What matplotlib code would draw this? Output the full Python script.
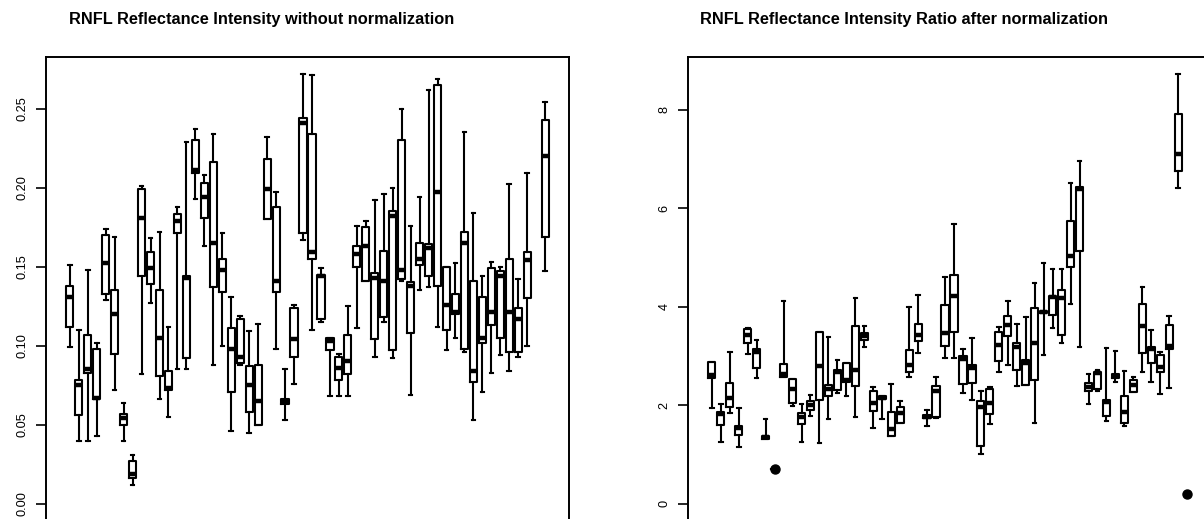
import numpy as np
import matplotlib
matplotlib.use("Agg")
import matplotlib.pyplot as plt

plt.rcParams['font.family'] = ['Liberation Sans', 'DejaVu Sans']

# ---- Left panel: RNFL reflectance intensity (no normalization) ----
left_lo  = [0.099,0.040,0.040,0.043,0.129,0.072,0.040,0.012,0.082,0.127,0.066,0.055,0.085,0.085,0.193,0.163,0.088,0.100,0.046,0.088,0.045,0.050,0.180,0.098,0.053,0.076,
            0.167,0.110,0.115,0.068,0.068,0.068,0.111,0.141,0.093,0.115,0.092,0.141,0.069,0.135,0.137,0.112,0.097,0.105,0.096,0.053,0.071,0.083,0.094,0.084,0.093,0.100,np.nan,0.147]
left_q1  = [0.112,0.056,0.083,0.066,0.133,0.095,0.050,0.016,0.144,0.139,0.081,0.072,0.171,0.092,0.209,0.181,0.137,0.134,0.071,0.089,0.058,0.050,0.180,0.134,0.063,0.093,
            0.1715,0.155,0.117,0.097,0.078,0.082,0.150,0.141,0.104,0.118,0.097,0.142,0.108,0.151,0.144,0.138,0.110,0.120,0.098,0.077,0.102,0.113,0.105,0.096,0.096,0.130,np.nan,0.169]
left_med = [0.131,0.075,0.085,0.067,0.152,0.120,0.054,0.019,0.181,0.149,0.105,0.073,0.179,0.143,0.211,0.194,0.165,0.148,0.098,0.093,0.075,0.065,0.199,0.141,0.065,0.104,
            0.241,0.159,0.144,0.103,0.086,0.090,0.158,0.163,0.143,0.141,0.182,0.148,0.138,0.155,0.162,0.197,0.126,0.121,0.165,0.084,0.105,0.121,0.144,0.121,0.117,0.154,np.nan,0.220]
left_q3  = [0.138,0.078,0.107,0.098,0.170,0.135,0.057,0.027,0.199,0.159,0.135,0.084,0.183,0.144,0.230,0.203,0.216,0.155,0.111,0.117,0.087,0.088,0.218,0.188,0.066,0.124,
            0.244,0.234,0.145,0.105,0.093,0.107,0.163,0.175,0.146,0.160,0.185,0.230,0.140,0.165,0.164,0.265,0.150,0.133,0.172,0.141,0.131,0.149,0.147,0.155,0.124,0.159,np.nan,0.243]
left_hi  = [0.151,0.110,0.148,0.102,0.174,0.169,0.064,0.031,0.201,0.168,0.172,0.112,0.188,0.229,0.237,0.208,0.234,0.171,0.131,0.119,0.109,0.114,0.232,0.197,0.085,0.126,
            0.272,0.271,0.149,0.105,0.095,0.125,0.176,0.179,0.192,0.196,0.200,0.250,0.176,0.194,0.262,0.269,0.150,0.152,0.235,0.184,0.144,0.153,0.150,0.202,0.142,0.209,np.nan,0.254]
left_yticks = [0.00, 0.05, 0.10, 0.15, 0.20, 0.25]
left_ytick_labels = ["0.00", "0.05", "0.10", "0.15", "0.20", "0.25"]

# ---- Right panel: RNFL reflectance intensity ratio (normalized) ----
right_lo  = [1.94,1.26,1.84,1.16,3.04,2.55,1.32,0.70,2.57,1.99,1.26,1.79,1.23,1.72,2.25,2.18,1.77,3.19,1.54,1.72,1.37,1.65,2.57,3.07,1.57,1.74,2.96,
             2.96,2.25,2.10,1.01,1.62,2.68,2.82,2.39,2.41,1.65,3.02,3.56,3.26,4.06,3.18,2.03,2.30,1.69,2.48,1.58,2.26,2.68,2.47,2.23,2.35,6.42,0.20]
right_q1  = [2.55,1.60,1.97,1.40,3.27,2.75,1.32,0.70,2.57,2.04,1.62,1.91,2.11,2.18,2.31,2.48,2.39,3.33,1.89,2.12,1.38,1.65,2.68,3.31,1.74,1.77,3.21,
             3.48,2.43,2.46,1.18,1.82,2.89,3.41,2.71,2.41,2.52,3.88,3.83,3.43,4.81,5.14,2.28,2.33,1.79,2.55,1.65,2.26,3.07,2.85,2.68,3.14,6.76,0.20]
right_med = [2.62,1.83,2.14,1.54,3.43,3.09,1.35,0.70,2.64,2.33,1.77,2.01,2.80,2.33,2.67,2.52,2.71,3.41,2.04,2.15,1.51,1.84,2.82,3.43,1.77,2.28,3.46,
             4.21,2.93,2.75,1.97,2.04,3.23,3.63,3.19,2.85,3.27,3.90,4.19,4.17,5.03,6.40,2.37,2.66,2.06,2.60,1.87,2.41,3.60,3.14,2.77,3.21,7.10,0.20]
right_q3  = [2.87,1.87,2.45,1.58,3.54,3.14,1.38,0.70,2.83,2.53,1.84,2.08,3.48,2.41,2.71,2.85,3.61,3.46,2.28,2.18,1.87,1.97,3.12,3.65,1.81,2.40,4.04,
             4.64,3.00,2.82,2.08,2.33,3.48,3.82,3.26,2.92,3.97,3.92,4.22,4.34,5.75,6.44,2.45,2.68,2.10,2.63,2.18,2.52,4.06,3.19,3.02,3.63,7.91,0.20]
right_hi  = [2.87,2.03,3.09,1.95,3.56,3.33,1.72,0.70,4.12,2.53,2.03,2.21,3.48,3.39,2.91,2.85,4.17,3.60,2.37,2.18,2.44,2.09,4.00,4.23,1.91,2.58,4.61,
             5.69,3.14,3.36,2.29,2.37,3.58,4.12,3.65,3.79,4.48,4.88,4.77,4.77,6.51,6.96,2.64,2.71,3.17,3.11,2.70,2.58,4.40,3.53,3.09,3.81,8.72,0.20]
right_yticks = [0, 2, 4, 6, 8]
right_ytick_labels = ["0", "2", "4", "6", "8"]

titles = ["RNFL Reflectance Intensity without normalization",
          "RNFL Reflectance Intensity Ratio after normalization"]

W, H = 1204, 519
fig = plt.figure(figsize=(W / 100, H / 100), dpi=100)


def make_stats(lo, q1, med, q3, hi):
    stats, pos = [], []
    for i, (a, b, c, d, e) in enumerate(zip(lo, q1, med, q3, hi)):
        if np.isnan(c):
            continue
        s = dict(whislo=a, q1=b, med=c, q3=d, whishi=e, fliers=[])
        if a == e:  # collapsed group drawn as a solid dot
            s['fliers'] = [c]
        stats.append(s)
        pos.append(i + 1)
    return stats, pos


def draw(ax, lo, q1, med, q3, hi, ylim, yticks, ylabels):
    stats, pos = make_stats(lo, q1, med, q3, hi)
    n = len(lo)
    lw = 1.5
    ax.bxp(stats, positions=pos, widths=0.8, showfliers=True,
           boxprops=dict(color='black', linewidth=lw),
           whiskerprops=dict(color='black', linewidth=lw),
           capprops=dict(color='black', linewidth=lw),
           medianprops=dict(color='black', linewidth=3.2, solid_capstyle='butt'),
           flierprops=dict(marker='o', markerfacecolor='black', markeredgecolor='black',
                           markersize=6.5),
           capwidths=0.4, manage_ticks=False)
    ax.set_xlim(0.5 - 0.04 * n, n + 0.5 + 0.04 * n)
    ax.set_ylim(*ylim)
    ax.set_xticks([])
    ax.set_yticks(yticks)
    ax.set_yticklabels(ylabels, rotation=90, va='center', fontsize=9.2)
    ax.tick_params(axis='y', direction='out', length=7, width=1.2, pad=5.5)
    for sp in ax.spines.values():
        sp.set_linewidth(1.4)


axh = (521 - 57) / H
axy = (H - 521) / H
ax1 = fig.add_axes([46 / W, axy, 523 / W, axh])
ax2 = fig.add_axes([688 / W, axy, 523 / W, axh])

draw(ax1, left_lo, left_q1, left_med, left_q3, left_hi, (-0.0109, 0.2826),
     left_yticks, left_ytick_labels)
draw(ax2, right_lo, right_q1, right_med, right_q3, right_hi, (-0.349, 9.07),
     right_yticks, right_ytick_labels)

fig.text(262 / W, 1 - 19.5 / H, titles[0], ha='center', va='center',
         fontsize=11.8, fontweight='bold')
fig.text(903.5 / W, 1 - 19.5 / H, titles[1], ha='center', va='center',
         fontsize=11.8, fontweight='bold')

fig.savefig("out.png", dpi=100)
